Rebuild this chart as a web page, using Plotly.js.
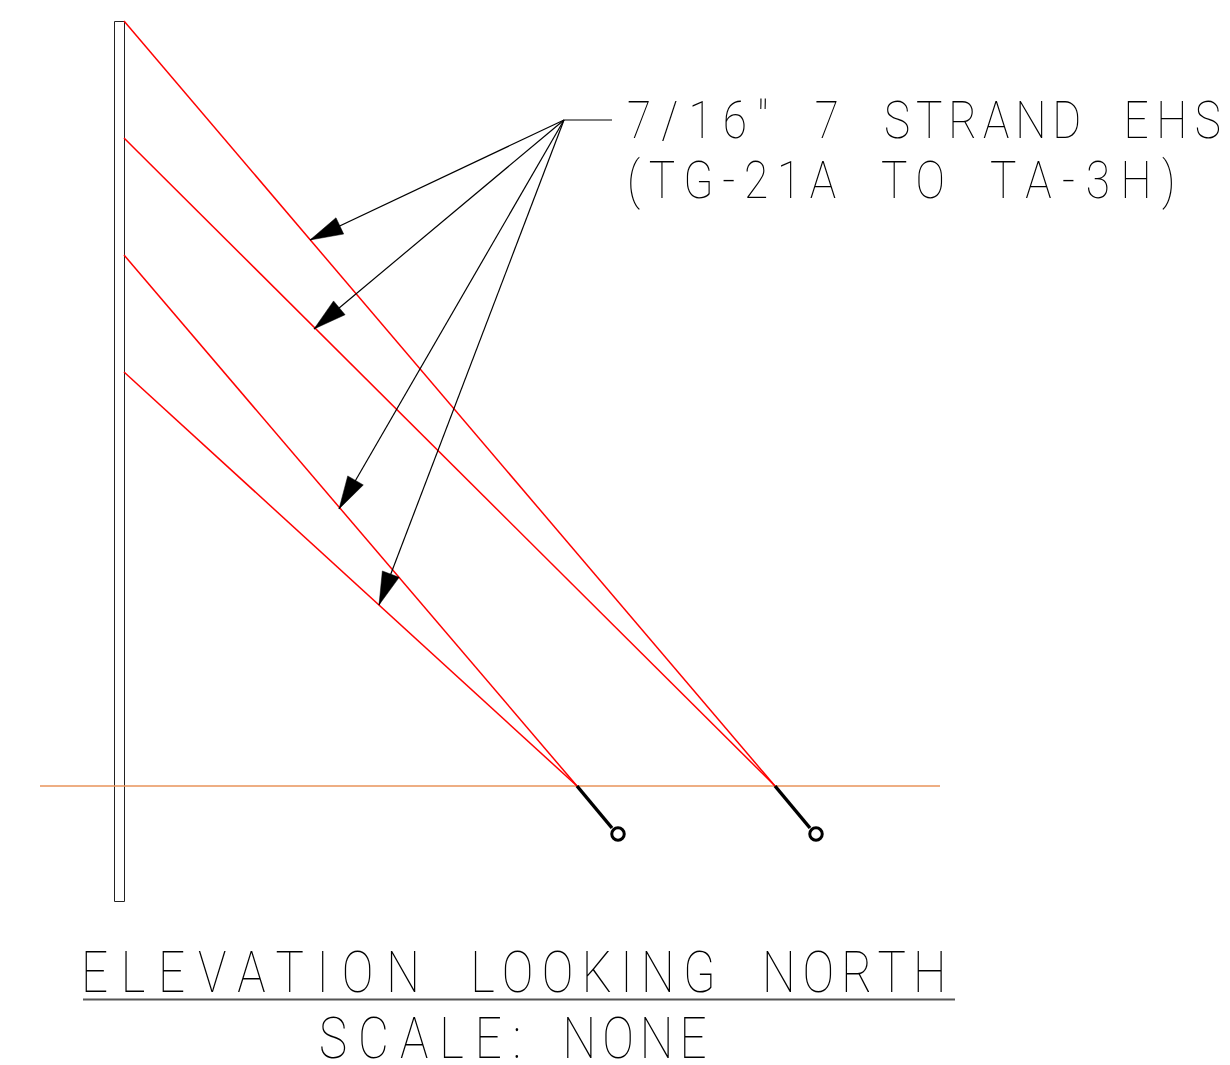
<!DOCTYPE html>
<html><head><meta charset="utf-8">
<script src="https://cdn.plot.ly/plotly-3.0.1.min.js"></script>
<style>html,body{margin:0;padding:0;background:#fff}#c{width:1230px;height:1065px}</style>
</head><body><div id="c"></div>
<script>
const poleX = [114.5,124.5,124.5,114.5,114.5];
const poleY = [21.5,21.5,901.5,901.5,21.5];
const wireTopY = [21,138,255,372];
const wireTopX = [124,124,124,124];
const wireEndX = [775,775,577,577];
const wireEndY = [786,786,786,786];
const groundX = [40,940];
const groundY = [786,786];
const anchorStartX = [577,775];
const anchorStartY = [786,786];
const anchorEndX = [612,810];
const anchorEndY = [828,828];
const eyeX = [618,816];
const eyeY = [834,834];
const hub = [564,120];
const leaderEnd = [612,120];
const tipX = [310,314,339,379];
const tipY = [240,329,509,605];
const ruleX = [83,955];
const ruleY = [999.5,999.5];
const labels = ['7/16" 7 STRAND EHS','(TG-21A TO TA-3H)','ELEVATION LOOKING NORTH','SCALE: NONE'];
const labelX = [627,627,81,319];
const labelY = [125,185,978,1044];
const labelSize = [52,52,58,58];
const labelSpacing = [10.2,10.2,12.2,11];
const labelWordGap = [20,20,20,12];
const labelStretch = [0.85,0.85,0.82,0.82];
// per-word adjustment of the letter spacing
const wordTweak = [[1.76,0,-3.3,-1.2],[0,0,2.2],[3.35,-2,-3.66],[2.4,-3.66]];

const traces = [];
const line = (x,y,color,width)=>traces.push({x,y,mode:'lines',type:'scatter',hoverinfo:'skip',line:{color,width}});
line(poleX,poleY,'#222',1);
line(groundX,groundY,'#e8935a',1.3);
wireTopX.forEach((_,i)=>line([wireTopX[i],wireEndX[i]],[wireTopY[i],wireEndY[i]],'#ff0000',1.5));
anchorStartX.forEach((_,i)=>line([anchorStartX[i],anchorEndX[i]],[anchorStartY[i],anchorEndY[i]],'#000',3.5));
line([hub[0],leaderEnd[0]],[hub[1],leaderEnd[1]],'#000',1.2);
const HEAD_LEN=33, HEAD_HALF=9;
tipX.forEach((_,i)=>{
  const dx=hub[0]-tipX[i], dy=hub[1]-tipY[i], d=Math.hypot(dx,dy), ux=dx/d, uy=dy/d;
  line([hub[0],tipX[i]],[hub[1],tipY[i]],'#000',1.2);
  const bx=tipX[i]+ux*HEAD_LEN, by=tipY[i]+uy*HEAD_LEN;
  traces.push({type:'scatter',mode:'lines',fill:'toself',fillcolor:'#000',hoverinfo:'skip',line:{color:'#000',width:0.5},
    x:[tipX[i],bx-uy*HEAD_HALF,bx+uy*HEAD_HALF,tipX[i]],y:[tipY[i],by+ux*HEAD_HALF,by-ux*HEAD_HALF,tipY[i]]});
});
traces.push({type:'scatter',mode:'markers',x:eyeX,y:eyeY,hoverinfo:'skip',marker:{symbol:'circle',size:12.5,color:'#fff',line:{color:'#000',width:3}}});
line(ruleX,ruleY,'#555',1.8);
labels.forEach((t,i)=>traces.push({type:'scatter',mode:'text',x:[labelX[i]],y:[labelY[i]],text:[t],textposition:'middle right',hoverinfo:'skip',
  textfont:{family:'Roboto, "Liberation Sans", sans-serif',size:labelSize[i],color:'#000',weight:100}}));

const layout={width:1230,height:1065,margin:{l:0,r:0,t:0,b:0},showlegend:false,paper_bgcolor:'#fff',plot_bgcolor:'#fff',
  xaxis:{range:[0,1230],visible:false,fixedrange:true},yaxis:{range:[1065,0],visible:false,fixedrange:true}};
Plotly.newPlot('c',traces,layout,{displayModeBar:false,staticPlot:true}).then(gd=>{
  gd.querySelectorAll('.textpoint text').forEach(el=>{
    const i=labels.indexOf(el.textContent);
    if(i<0) return;
    el.style.letterSpacing=labelSpacing[i]+'px';
    el.style.wordSpacing=labelWordGap[i]+'px';
    el.style.filter='grayscale(1)';
    const x0=parseFloat(el.getAttribute('x'));
    el.setAttribute('transform',`translate(${x0},0) scale(${labelStretch[i]},1) translate(${-x0},0)`);
    el.textContent='';
    labels[i].split(' ').forEach((w,k,all)=>{
      const ts=document.createElementNS('http://www.w3.org/2000/svg','tspan');
      ts.textContent=w;
      ts.style.letterSpacing=(labelSpacing[i]+wordTweak[i][k])+'px';
      el.appendChild(ts);
      if(k<all.length-1) el.appendChild(document.createTextNode(' '));
    });
  });
});
</script></body></html>
